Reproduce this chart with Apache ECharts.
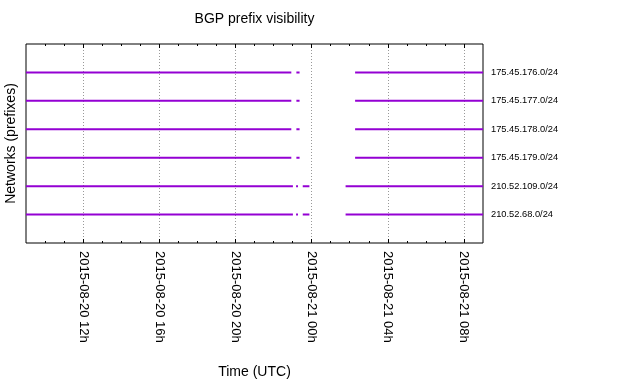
<!DOCTYPE html>
<html>
<head>
<meta charset="utf-8">
<script src="https://cdn.jsdelivr.net/npm/echarts@6/dist/echarts.min.js"></script>
<style>html,body{margin:0;padding:0;background:#fff}#c{width:640px;height:384px}</style>
</head>
<body>
<div id="c"></div>
<script>
// Prefixes, bottom to top (y = 1..6)
const prefixes = ['210.52.68.0/24', '210.52.109.0/24', '175.45.179.0/24', '175.45.178.0/24', '175.45.177.0/24', '175.45.176.0/24'];
// Visibility intervals per prefix (UTC)
const intervals_210_52_68 = [['2015-08-20T09:00', '2015-08-20T23:01'], ['2015-08-20T23:11', '2015-08-20T23:17'], ['2015-08-20T23:32', '2015-08-20T23:53'], ['2015-08-21T01:47', '2015-08-21T09:00']];
const intervals_210_52_109 = [['2015-08-20T09:00', '2015-08-20T23:01'], ['2015-08-20T23:11', '2015-08-20T23:17'], ['2015-08-20T23:32', '2015-08-20T23:53'], ['2015-08-21T01:47', '2015-08-21T09:00']];
const intervals_175_45_179 = [['2015-08-20T09:00', '2015-08-20T22:56'], ['2015-08-20T23:12', '2015-08-20T23:22'], ['2015-08-21T02:17', '2015-08-21T09:00']];
const intervals_175_45_178 = [['2015-08-20T09:00', '2015-08-20T22:56'], ['2015-08-20T23:12', '2015-08-20T23:22'], ['2015-08-21T02:17', '2015-08-21T09:00']];
const intervals_175_45_177 = [['2015-08-20T09:00', '2015-08-20T22:56'], ['2015-08-20T23:12', '2015-08-20T23:22'], ['2015-08-21T02:17', '2015-08-21T09:00']];
const intervals_175_45_176 = [['2015-08-20T09:00', '2015-08-20T22:56'], ['2015-08-20T23:12', '2015-08-20T23:22'], ['2015-08-21T02:17', '2015-08-21T09:00']];
const allIntervals = [intervals_210_52_68, intervals_210_52_109, intervals_175_45_179, intervals_175_45_178, intervals_175_45_177, intervals_175_45_176];
// Axis range and ticks
const timeMin = '2015-08-20T09:00';
const timeMax = '2015-08-21T09:00';
const majorTicks = ['2015-08-20T12:00', '2015-08-20T16:00', '2015-08-20T20:00', '2015-08-21T00:00', '2015-08-21T04:00', '2015-08-21T08:00'];
const minorTicks = ['2015-08-20T10:00','2015-08-20T11:00','2015-08-20T13:00','2015-08-20T14:00','2015-08-20T15:00','2015-08-20T17:00','2015-08-20T18:00','2015-08-20T19:00','2015-08-20T21:00','2015-08-20T22:00','2015-08-20T23:00','2015-08-21T01:00','2015-08-21T02:00','2015-08-21T03:00','2015-08-21T05:00','2015-08-21T06:00','2015-08-21T07:00'];

// Convert time strings to hours since 2015-08-20 00:00 UTC (value axis in hours)
const EPOCH = Date.parse('2015-08-20T00:00:00Z');
const hrs = s => (Date.parse(s + ':00Z') - EPOCH) / 3600000;
const pad = n => (n < 10 ? '0' : '') + n;
const fmt = h => { const d = new Date(EPOCH + Math.round(h * 3600000)); return d.getUTCFullYear() + '-' + pad(d.getUTCMonth() + 1) + '-' + pad(d.getUTCDate()) + ' ' + pad(d.getUTCHours()) + 'h'; };

const COLOR = '#9400d3';
const series = allIntervals.map((ivs, i) => {
  const data = [];
  ivs.forEach(iv => {
    data.push([hrs(iv[0]), i + 1]);
    data.push([hrs(iv[1]), i + 1]);
    data.push([hrs(iv[1]), '-']);
  });
  return {
    type: 'line', data, showSymbol: false, symbol: 'none', connectNulls: false,
    lineStyle: { color: COLOR, width: 2 }, itemStyle: { color: COLOR },
    silent: true, animation: false, clip: true
  };
});

const baseX = {
  type: 'value', min: hrs(timeMin), max: hrs(timeMax), gridIndex: 0,
  axisLine: { show: false }, splitLine: { show: false },
  axisLabel: { show: false }
};

const chart = echarts.init(document.getElementById('c'), null, { renderer: 'canvas' });
chart.setOption({
  animation: false,
  backgroundColor: '#fff',
  title: {
    text: 'BGP prefix visibility', left: 254.5, top: 12, textAlign: 'center', padding: 0,
    textStyle: { fontFamily: 'Liberation Sans', fontSize: 14, fontWeight: 'normal', color: '#000' }
  },
  grid: { left: 26, right: 157, top: 44, bottom: 141, show: true, borderColor: '#000', borderWidth: 1, backgroundColor: 'transparent',
    containLabel: false, outerBoundsMode: 'none' },
  xAxis: [
    Object.assign({}, baseX, {
      position: 'bottom',
      axisTick: { show: true, inside: true, length: 4, customValues: majorTicks.map(hrs), lineStyle: { color: '#000' } },
      axisLabel: { show: true, customValues: majorTicks.map(hrs), rotate: -90, margin: 8, formatter: v => fmt(v),
        fontFamily: 'Liberation Sans', fontSize: 13, color: '#000' },
      splitLine: { show: true, lineStyle: { color: '#999', type: [1, 2], width: 1 } },
      name: 'Time (UTC)', nameLocation: 'middle', nameGap: 122,
      nameTextStyle: { fontFamily: 'Liberation Sans', fontSize: 14, color: '#000' }
    }),
    Object.assign({}, baseX, {
      position: 'bottom',
      axisTick: { show: true, inside: true, length: 2, customValues: minorTicks.map(hrs), lineStyle: { color: '#000' } }
    }),
    Object.assign({}, baseX, {
      position: 'top',
      axisTick: { show: true, inside: true, length: 4, customValues: majorTicks.map(hrs), lineStyle: { color: '#000' } }
    }),
    Object.assign({}, baseX, {
      position: 'top',
      axisTick: { show: true, inside: true, length: 2, customValues: minorTicks.map(hrs), lineStyle: { color: '#000' } }
    })
  ],
  yAxis: [
    {
      type: 'value', min: 0, max: 7, interval: 1, position: 'right',
      axisLine: { show: false }, axisTick: { show: false }, splitLine: { show: false },
      axisLabel: { show: true, margin: 8, fontFamily: 'Liberation Sans', fontSize: 9.3, color: '#000',
        formatter: v => (v >= 1 && v <= prefixes.length) ? prefixes[v - 1] : '' }
    },
    {
      type: 'value', min: 0, max: 7, interval: 1, position: 'left',
      axisLine: { show: false }, axisTick: { show: false }, splitLine: { show: false }, axisLabel: { show: false },
      name: 'Networks (prefixes)', nameLocation: 'middle', nameGap: 8,
      nameTextStyle: { fontFamily: 'Liberation Sans', fontSize: 14, color: '#000' }
    }
  ],
  series
});
</script>
</body>
</html>
